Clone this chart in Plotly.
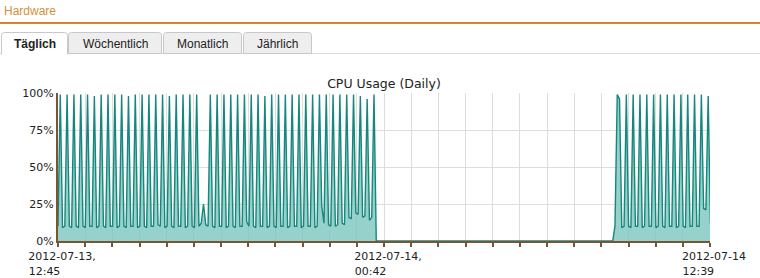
import pandas as pd
import plotly.graph_objects as go

# ---------------- data ----------------
start_time = "2012-07-13 12:45"
end_time = "2012-07-14 12:39"
sample_minutes = 5

cpu_usage = [
    10, 99, 9, 10, 99, 10, 9, 99, 10, 9, 99, 10,
    9, 99, 10, 10, 98, 9, 10, 99, 10, 9, 99, 10,
    10, 99, 9, 10, 99, 10, 9, 98, 10, 10, 99, 9,
    10, 99, 10, 9, 99, 10, 10, 99, 11, 10, 99, 9,
    10, 98, 10, 9, 99, 10, 10, 99, 9, 10, 99, 10,
    9, 99, 10, 12, 25, 11, 10, 99, 10, 9, 99, 10,
    10, 99, 9, 10, 99, 10, 9, 99, 10, 10, 99, 13,
    10, 99, 10, 9, 99, 10, 10, 98, 9, 10, 99, 10,
    9, 99, 10, 10, 99, 9, 10, 99, 10, 10, 99, 9,
    10, 99, 10, 10, 99, 9, 10, 99, 24, 12, 99, 11,
    10, 99, 10, 11, 99, 12, 11, 99, 16, 15, 99, 19,
    18, 98, 16, 17, 96, 14, 16, 99, 0, 0, 0, 0,
    0, 0, 0, 0, 0, 0, 0, 0, 0, 0, 0, 0,
    0, 0, 0, 0, 0, 0, 0, 0, 0, 0, 0, 0,
    0, 0, 0, 0, 0, 0, 0, 0, 0, 0, 0, 0,
    0, 0, 0, 0, 0, 0, 0, 0, 0, 0, 0, 0,
    0, 0, 0, 0, 0, 0, 0, 0, 0, 0, 0, 0,
    0, 0, 0, 0, 0, 0, 0, 0, 0, 0, 0, 0,
    0, 0, 0, 0, 0, 0, 0, 0, 0, 0, 0, 0,
    0, 0, 0, 0, 0, 0, 0, 0, 0, 0, 0, 0,
    0, 0, 0, 0, 0, 10, 99, 96, 9, 10, 99, 10,
    9, 99, 10, 10, 99, 9, 10, 99, 10, 10, 99, 9,
    10, 99, 10, 9, 99, 10, 10, 99, 9, 10, 99, 10,
    9, 99, 10, 10, 99, 10, 10, 99, 22, 21, 98, 12,
]

y_ticks = [0, 25, 50, 75, 100]
y_tick_labels = ["0%", "25%", "50%", "75%", "100%"]
x_tick_count = 25
x_tick_labels = {
    0: "2012-07-13,<br>12:45" + "\u00a0" * 10,
    12: "2012-07-14,<br>00:42" + "\u00a0" * 10,
    24: "2012-07-14<br>12:39" + "\u00a0" * 9,
}

title_text = "CPU Usage (Daily)"
section_title = "Hardware"
tabs = ["Täglich", "Wöchentlich", "Monatlich", "Jährlich"]

# ---------------- build ----------------
times = pd.date_range(start_time, periods=len(cpu_usage), freq=f"{sample_minutes}min")
t0 = pd.Timestamp(start_time)
t1 = pd.Timestamp(end_time)
tick_vals = [t0 + (t1 - t0) * k / (x_tick_count - 1) for k in range(x_tick_count)]
tick_text = [x_tick_labels.get(k, "") for k in range(x_tick_count)]

W, H = 760, 278
ML, MR, MT, MB = 58, 50, 93, 37
PW, PH = W - ML - MR, H - MT - MB


def px(x):
    return (x - ML) / PW


def py(y):
    return (H - MB - y) / PH


AXIS = "#7a5433"
GRID = "#dedede"
TXT = "#222222"
CHART_FONT = "DejaVu Sans"
PAGE_FONT = "Liberation Sans"

fig = go.Figure()
fig.add_trace(go.Scatter(
    x=times, y=cpu_usage, mode="lines",
    line=dict(color="#17867d", width=1.4),
    fill="tozeroy", fillcolor="rgba(120,196,188,0.78)",
    hoverinfo="skip", showlegend=False,
))

shapes = []
annotations = []

# header orange rule
shapes.append(dict(type="line", xref="paper", yref="paper",
                   x0=px(0), x1=px(W), y0=py(23), y1=py(23),
                   line=dict(color="#d9842c", width=2)))
annotations.append(dict(text=section_title, xref="paper", yref="paper",
                        x=px(2), y=py(11), xanchor="left", yanchor="middle",
                        showarrow=False,
                        font=dict(family=PAGE_FONT, size=12, color="#d4903c")))

# tab baseline
shapes.append(dict(type="line", xref="paper", yref="paper",
                   x0=px(0), x1=px(W), y0=py(53.5), y1=py(53.5),
                   line=dict(color="#d8d8d8", width=1)))

tab_bounds = [(1.5, 67.5), (68.5, 161.5), (163.5, 241.5), (243.5, 311.5)]
tab_top, tab_bot = 32.5, 53.5
r = 3


def tab_path(x0, x1, ybot, closed):
    p = (f"M {px(x0)},{py(ybot)} L {px(x0)},{py(tab_top + r)} "
         f"Q {px(x0)},{py(tab_top)} {px(x0 + r)},{py(tab_top)} "
         f"L {px(x1 - r)},{py(tab_top)} "
         f"Q {px(x1)},{py(tab_top)} {px(x1)},{py(tab_top + r)} "
         f"L {px(x1)},{py(ybot)}")
    return p + (" Z" if closed else "")


for i, (x0, x1) in enumerate(tab_bounds):
    if i == 0:
        continue
    shapes.append(dict(type="path", xref="paper", yref="paper",
                       path=tab_path(x0, x1, tab_bot, True),
                       fillcolor="#eeeeee", line=dict(color="#c8c8c8", width=1)))
x0, x1 = tab_bounds[0]
shapes.append(dict(type="path", xref="paper", yref="paper",
                   path=tab_path(x0, x1, tab_bot + 1, False),
                   fillcolor="#ffffff", line=dict(color="#c8c8c8", width=1)))

for i, (name, (x0, x1)) in enumerate(zip(tabs, tab_bounds)):
    annotations.append(dict(text=f"<b>{name}</b>" if i == 0 else name,
                            xref="paper", yref="paper",
                            x=px((x0 + x1) / 2), y=py(43.5),
                            xanchor="center", yanchor="middle", showarrow=False,
                            font=dict(family=PAGE_FONT, size=12, color=TXT)))

fig.update_layout(
    width=W, height=H, autosize=False,
    margin=dict(l=ML, r=MR, t=MT, b=MB, pad=0),
    paper_bgcolor="white", plot_bgcolor="white",
    font=dict(family=CHART_FONT, size=11, color=TXT),
    title=dict(text=title_text, x=0.5, xref="paper", xanchor="center",
               y=1 - 84 / H, yref="container", yanchor="middle",
               font=dict(family=CHART_FONT, size=12.5, color=TXT)),
    shapes=shapes, annotations=annotations,
    xaxis=dict(type="date", range=[t0, t1], tickmode="array",
               tickvals=tick_vals, ticktext=tick_text,
               showgrid=True, gridcolor=GRID, gridwidth=1,
               showline=True, linecolor=AXIS, linewidth=2,
               ticks="outside", ticklen=4, tickwidth=2, tickcolor=AXIS,
               ticklabelshift=4, zeroline=False, automargin=False,
               tickfont=dict(family=CHART_FONT, size=11, color=TXT)),
    yaxis=dict(range=[0, 100], tickmode="array", tickvals=y_ticks,
               ticktext=y_tick_labels, showgrid=True, gridcolor=GRID, gridwidth=1,
               showline=True, linecolor=AXIS, linewidth=2,
               ticks="", zeroline=False, automargin=False,
               tickfont=dict(family=CHART_FONT, size=11, color=TXT)),
)

fig.write_html("out.html")
